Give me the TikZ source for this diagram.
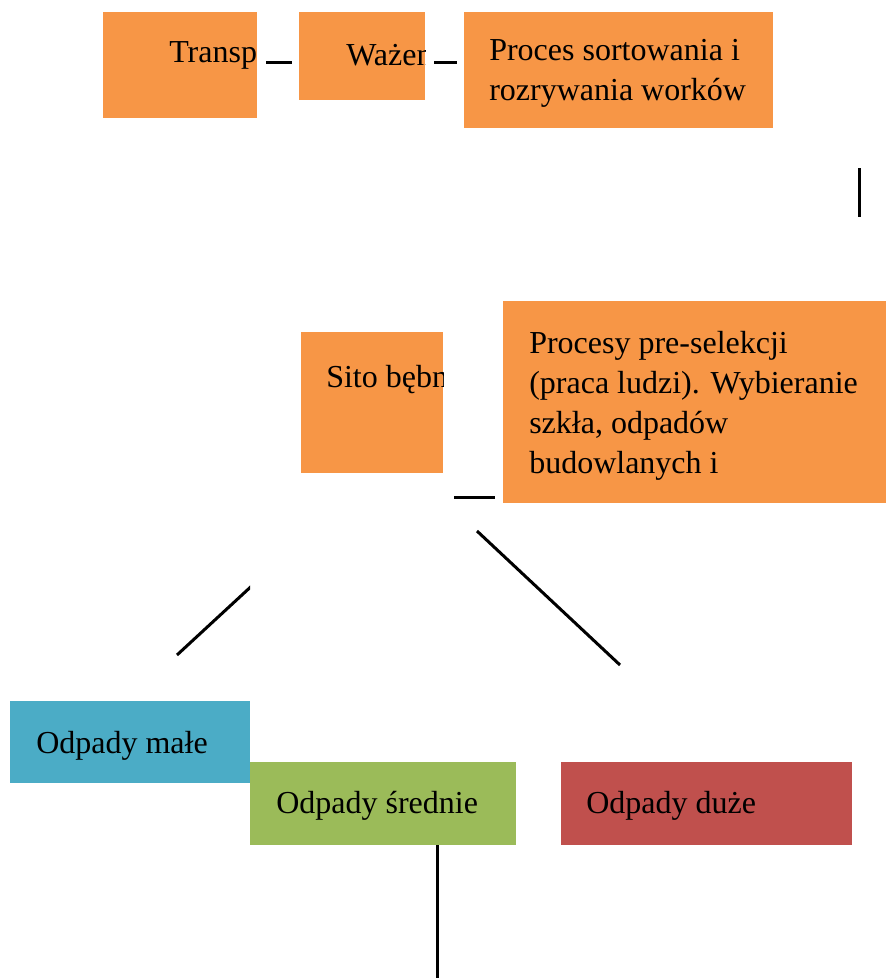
\documentclass[tikz,border=0pt]{standalone}
\usepackage{fontspec}
\setmainfont{Liberation Serif}
\newcommand\boxfont{\fontsize{24}{30}\selectfont}
\definecolor{accorange}{HTML}{F79646}
\definecolor{accblue}{HTML}{4BACC6}
\definecolor{accgreen}{HTML}{9BBB59}
\definecolor{accred}{HTML}{C0504D}
\begin{document}
\begin{tikzpicture}[x=0.75pt,y=-0.75pt]
\tikzset{
  box/.style={draw=none, inner sep=0pt, outer sep=0pt, anchor=north west},
  size/.style 2 args={minimum width=#1*0.75pt, minimum height=#2*0.75pt},
  lbl/.style={inner sep=0pt, anchor=base west, font=\boxfont, text=black},
  link/.style={line width=2.25pt, black},
}
\useasboundingbox (0,0) rectangle (886,978);

% ---- top row ----
\node[box, fill=accorange, size={154}{106}] (transp) at (103,12) {};
\node[box, fill=accorange, size={126}{88}] (wazenie) at (299,12) {};
\node[box, fill=accorange, size={309}{116}] (sort) at (464,12) {};
% labels cut off at the right edge of their boxes
\begin{scope}
  \clip (transp.north west) rectangle (transp.south east);
  \node[lbl] (transptxt) at (169,62) {Transport};
\end{scope}
\begin{scope}
  \clip (wazenie.north west) rectangle (wazenie.south east);
  \node[lbl] (wazenietxt) at (346,65) {Ważenie};
\end{scope}
\node[lbl] (sorttxt) at (489,60) {\begin{tabular}[t]{@{}l@{}}Proces sortowania i\\rozrywania worków\end{tabular}};

\coordinate (a1) at (266,62); \coordinate (a2) at (292,62);
\coordinate (b1) at (434,62); \coordinate (b2) at (457,62);
\coordinate (c1) at (859,168); \coordinate (c2) at (859,217);
\draw[link] (a1) -- (a2);
\draw[link] (b1) -- (b2);
\draw[link] (c1) -- (c2);

% ---- middle row ----
\node[box, fill=accorange, size={142}{141}] (sito) at (301,332) {};
\begin{scope}
  \clip (sito.north west) rectangle (sito.south east);
  \node[lbl] (sitotxt) at (326,387) {Sito bębnowe};
\end{scope}
\node[box, fill=accorange, size={383}{202}] (presel) at (503,301) {};
\node[lbl] (preseltxt) at (529,353) {\begin{tabular}[t]{@{}l@{}}Procesy pre-selekcji\\(praca ludzi). Wybieranie\\szkła, odpadów\\budowlanych i\end{tabular}};

\coordinate (d1) at (454,497); \coordinate (d2) at (495,497);
\draw[link] (d1) -- (d2);

% ---- branches towards the three fractions ----
\coordinate (e1) at (177,655); \coordinate (e2) at (256,582);
\begin{scope}
  \clip (0,560) rectangle (250,700);
  \draw[link] (e1) -- (e2);
\end{scope}
\coordinate (f1) at (477,531); \coordinate (f2) at (620,665);
\draw[link] (f1) -- (f2);

% ---- bottom row ----
\node[box, fill=accblue, size={240}{82}] (male) at (10,701) {};
\node[lbl] (maletxt) at (36,753) {Odpady małe};
\node[box, fill=accgreen, size={266}{83}] (srednie) at (250,762) {};
\node[lbl] (srednietxt) at (276,813) {Odpady średnie};
\node[box, fill=accred, size={291}{83}] (duze) at (561,762) {};
\node[lbl] (duzetxt) at (586,813) {Odpady duże};

\coordinate (g1) at (437,978);
\draw[link] (srednie.south west -| g1) -- (g1);
\end{tikzpicture}
\end{document}
